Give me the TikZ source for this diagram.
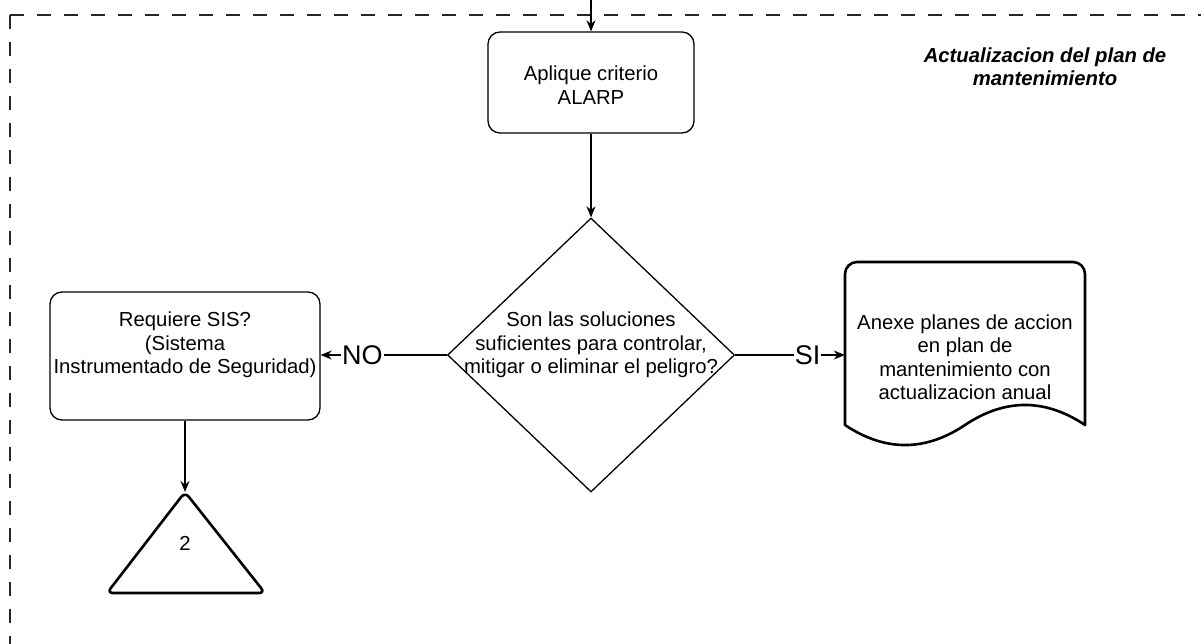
\documentclass[tikz,border=0pt]{standalone}
\usepackage{fontspec}
\setmainfont{Liberation Sans}
\usetikzlibrary{shapes.geometric,arrows.meta}
\begin{document}
\begin{tikzpicture}[x=1pt,y=-1pt,
  every node/.style={font=\fontsize{20.3}{23.5}\selectfont},
  procbox/.style={draw, line width=1.3pt, rounded corners=12pt, inner sep=0pt},
  decision/.style={draw, diamond, line width=1.3pt, inner sep=0pt},
  label/.style={fill=white, inner sep=1pt, font=\fontsize{27}{30}\selectfont},
  flow/.style={line width=1.3pt, -{Stealth[length=11pt,width=9pt,inset=3.5pt]}},
  thick outline/.style={draw, line width=2.6pt, line join=round},
  frame/.style={line width=1.8pt, dash pattern=on 14pt off 13pt, color=black!85}]
\useasboundingbox (0,0) rectangle (1201,644);

% dashed group frame
\coordinate (fc) at (10,15);
\coordinate (fr) at (1201,15);
\coordinate (fb) at (10,644);
\draw[frame] (fc) -- (fr);
\draw[frame] (fc) -- (fb);

% group title
\node[align=center, font=\fontsize{20.3}{23.5}\selectfont\bfseries\itshape] (title) at (1045,66.5)
  {Actualizacion del plan de\\mantenimiento};

% process boxes
\node[procbox, minimum width=206pt, minimum height=101pt] (alarp) at (591,82.5) {};
\node[align=center] (alarpt) at (591,85) {Aplique criterio\\ALARP};

\node[decision, minimum width=287pt, minimum height=274pt] (dec) at (591,355) {};
\node[align=center] (dect) at (591,345)
  {Son las soluciones\\suficientes para controlar,\\mitigar o eliminar el peligro?};

\node[procbox, minimum width=270pt, minimum height=128pt] (sis) at (185,356) {};
\node[align=center] (sist) at (185,345)
  {Requiere SIS?\\(Sistema\\Instrumentado de Seguridad)};

% document shape
\node[minimum width=240pt, minimum height=163pt, inner sep=0pt] (doc) at (965,343.5) {};
\draw[thick outline] (845,425)
  [rounded corners=12pt] -- (845,262) -- (1085,262) [sharp corners] -- (1085,425)
  .. controls (1045,398.3) and (1005,398.3) .. (965,425)
  .. controls (925,451.7) and (885,451.7) .. (845,425) -- cycle;
\node[align=center] (doct) at (965,357)
  {Anexe planes de accion\\en plan de\\mantenimiento con\\actualizacion anual};

% off-page connector
\coordinate (ta) at (185,492);
\draw[thick outline, rounded corners=6pt] (185,492) -- (265,593) -- (107,593) -- cycle;
\node (tri) at (185,543) {2};

% connectors
\coordinate (in) at (591,0);
\draw[flow] (in) -- (alarp.north);
\draw[flow] (alarp.south) -- (dec.north);
\draw[flow] (dec.west) -- node[label, pos=0.67] (no) {NO} (sis.east |- dec.west);
\draw[flow] (dec.east) -- node[label, pos=0.66] (si) {SI} (doc.west |- dec.east);
\draw[flow] (sis.south) -- (ta);
\end{tikzpicture}
\end{document}
